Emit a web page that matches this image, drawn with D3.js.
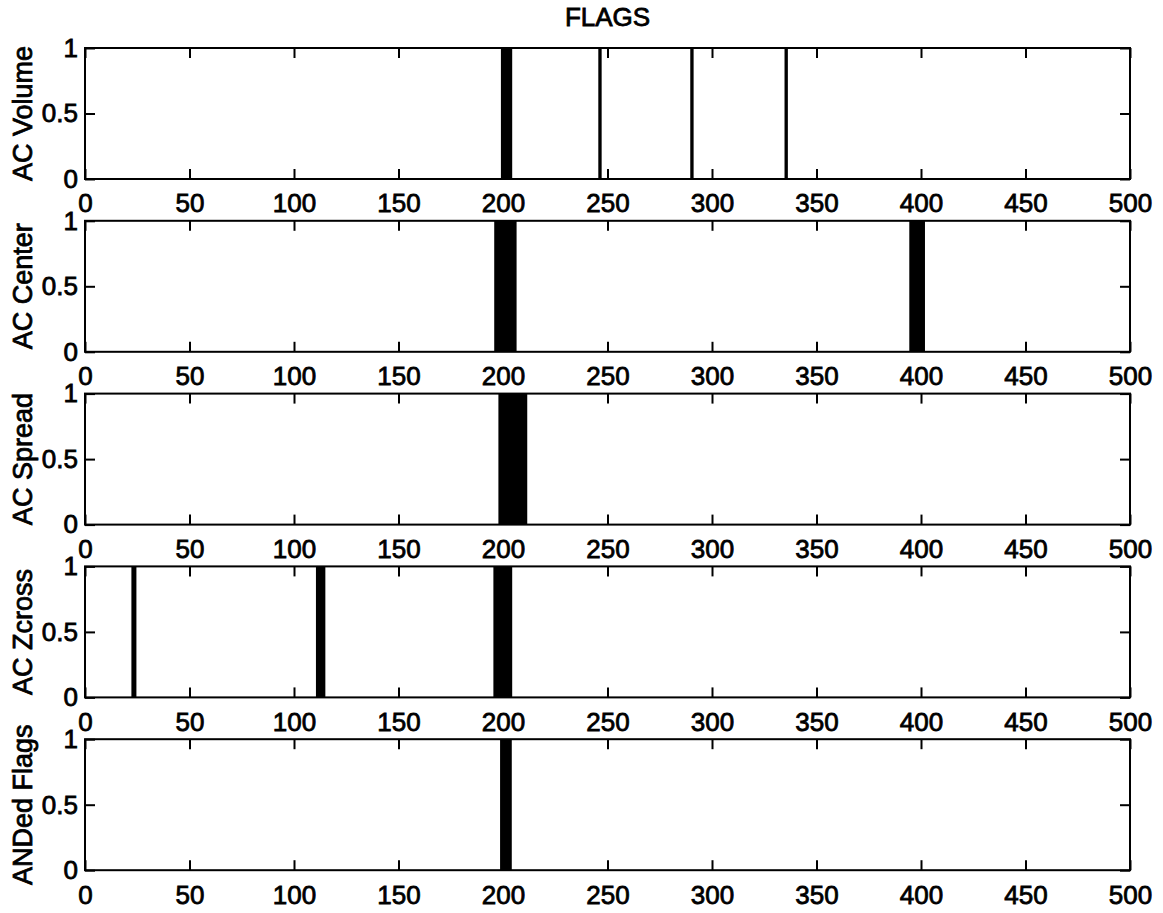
<!DOCTYPE html>
<html>
<head>
<meta charset="utf-8">
<script src="https://cdn.jsdelivr.net/npm/d3@7"></script>
<style>
  html, body { margin: 0; padding: 0; background: #fff; }
  svg text { font-family: "Liberation Sans", Arial, Helvetica, sans-serif; fill: #000; }
</style>
</head>
<body>
<svg id="chart" width="1163" height="913"></svg>
<script>
// Flag traces: each entry is a [start, end] frame interval where the flag is 1.
const volumeFlags = [[199, 204.4], [245.6, 247.2], [289.6, 291.2], [334.7, 336.3]];
const centerFlags = [[195.8, 206.5], [394.4, 401.9]];
const spreadFlags = [[197.8, 211.6]];
const zcrossFlags = [[22.2, 24.6], [110.5, 115], [195.4, 204.4]];
const andedFlags  = [[198.6, 204.2]];

const panelLabels = ["AC Volume", "AC Center", "AC Spread", "AC Zcross", "ANDed Flags"];
const panelSeries = [volumeFlags, centerFlags, spreadFlags, zcrossFlags, andedFlags];

const xTicks = [0, 50, 100, 150, 200, 250, 300, 350, 400, 450, 500];
const yTicks = [0, 0.5, 1];
const yTickLabels = ["0", "0.5", "1"];
const title = "FLAGS";

// Layout
const left = 85, right = 1130;
const firstTop = 48, panelStep = 172.8, panelHeight = 131;
const tickLen = 10;
const fontSize = 26;
const labelSize = 27;
const textStroke = 0.8;

const svg = d3.select("#chart");

const x = d3.scaleLinear().domain([0, 500]).range([left, right]);

svg.append("text")
  .attr("x", (left + right) / 2)
  .attr("y", 26)
  .attr("text-anchor", "middle")
  .style("font-size", fontSize + "px")
  .style("stroke", "#000").style("stroke-width", textStroke)
  .text(title);

panelSeries.forEach((series, i) => {
  const top = firstTop + i * panelStep;
  const bottom = top + panelHeight;
  const y = d3.scaleLinear().domain([0, 1]).range([bottom, top]);
  const g = svg.append("g");

  // flag pulses
  g.selectAll("rect.flag")
    .data(series)
    .join("rect")
    .attr("class", "flag")
    .attr("x", d => x(d[0]))
    .attr("width", d => x(d[1]) - x(d[0]))
    .attr("y", y(1))
    .attr("height", y(0) - y(1))
    .attr("fill", "#000");

  // axes with inward ticks on all four sides
  const bottomAxis = d3.axisBottom(x).tickValues(xTicks).tickSizeInner(-tickLen).tickSizeOuter(0).tickPadding(15).tickFormat(d3.format("d"));
  const topAxis = d3.axisTop(x).tickValues(xTicks).tickSizeInner(-tickLen).tickSizeOuter(0).tickFormat("");
  const leftAxis = d3.axisLeft(y).tickValues(yTicks).tickSizeInner(-tickLen).tickSizeOuter(0).tickPadding(7).tickFormat((d, k) => yTickLabels[k]);
  const rightAxis = d3.axisRight(y).tickValues(yTicks).tickSizeInner(-tickLen).tickSizeOuter(0).tickFormat("");

  const axes = [
    g.append("g").attr("transform", `translate(0,${bottom})`).call(bottomAxis),
    g.append("g").attr("transform", `translate(0,${top})`).call(topAxis),
    g.append("g").attr("transform", `translate(${left},0)`).call(leftAxis),
    g.append("g").attr("transform", `translate(${right},0)`).call(rightAxis)
  ];
  axes.forEach(a => {
    a.select(".domain").remove();
    a.selectAll("line").attr("stroke", "#000").attr("stroke-width", 2);
    a.selectAll("text")
      .style("font-size", fontSize + "px")
      .style("font-family", '"Liberation Sans", Arial, sans-serif')
      .attr("fill", "#000")
      .style("stroke", "#000").style("stroke-width", textStroke);
  });

  // box
  g.append("rect")
    .attr("x", left).attr("y", top)
    .attr("width", right - left).attr("height", panelHeight)
    .attr("fill", "none").attr("stroke", "#000").attr("stroke-width", 2);

  // y label
  g.append("text")
    .attr("transform", `translate(32,${(top + bottom) / 2}) rotate(-90)`)
    .attr("text-anchor", "middle")
    .style("font-size", labelSize + "px")
    .style("stroke", "#000").style("stroke-width", textStroke)
    .text(panelLabels[i]);
});
</script>
</body>
</html>
